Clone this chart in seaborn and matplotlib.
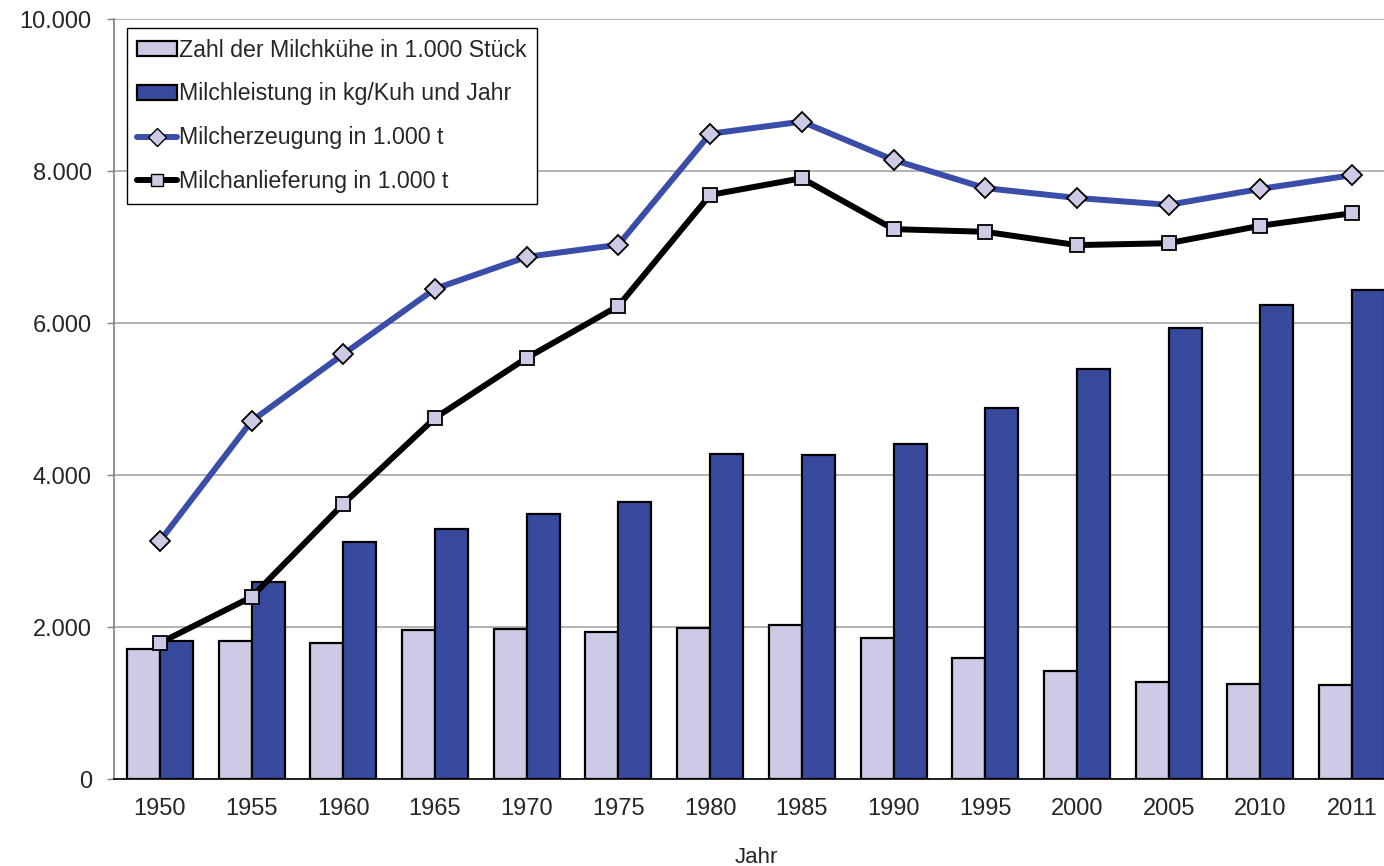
import matplotlib
matplotlib.use("Agg")
import matplotlib.pyplot as plt
import seaborn as sns
import pandas as pd
import numpy as np
from matplotlib.ticker import FixedLocator, FuncFormatter
from matplotlib.lines import Line2D
from matplotlib.patches import Patch

years = ["1950", "1955", "1960", "1965", "1970", "1975", "1980", "1985",
         "1990", "1995", "2000", "2005", "2010", "2011"]
kuehe = [1710, 1815, 1790, 1960, 1975, 1935, 1990, 2025, 1855, 1590, 1420, 1275, 1250, 1240]
leistung = [1815, 2590, 3120, 3290, 3490, 3645, 4275, 4265, 4410, 4880, 5395, 5930, 6235, 6435]
erzeugung = [3130, 4710, 5590, 6450, 6870, 7030, 8490, 8650, 8145, 7775, 7645, 7555, 7765, 7945]
anlieferung = [1790, 2395, 3620, 4750, 5540, 6225, 7685, 7905, 7235, 7200, 7025, 7050, 7280, 7445]

lbl_kuehe = "Zahl der Milchkühe in 1.000 Stück"
lbl_leistung = "Milchleistung in kg/Kuh und Jahr"
lbl_erz = "Milcherzeugung in 1.000 t"
lbl_anl = "Milchanlieferung in 1.000 t"

c_light = "#CCCAE4"
c_dark = "#384A9E"
c_line = "#3A4DA8"

sns.set_style("white")
plt.rcParams["font.family"] = ["Liberation Sans", "DejaVu Sans"]

bars = pd.DataFrame({
    "Jahr": years * 2,
    "Wert": kuehe + leistung,
    "Serie": [lbl_kuehe] * len(years) + [lbl_leistung] * len(years),
})

fig = plt.figure(figsize=(13.84, 8.66), dpi=100)
ax = fig.add_axes([114 / 1384, 1 - 779 / 866, 1284 / 1384, 760 / 866])

sns.barplot(data=bars, x="Jahr", y="Wert", hue="Serie", ax=ax,
            palette=[c_light, c_dark], saturation=1, width=0.72, gap=0,
            edgecolor="black", linewidth=1.6, legend=False, zorder=3)

pos = np.arange(len(years))
sns.lineplot(x=pos, y=erzeugung, ax=ax, color=c_line, linewidth=4.3,
             marker="D", markersize=9.8, markerfacecolor=c_light,
             markeredgecolor="black", markeredgewidth=1.3, zorder=5)
sns.lineplot(x=pos, y=anlieferung, ax=ax, color="black", linewidth=4.3,
             marker="s", markersize=9.5, markerfacecolor=c_light,
             markeredgecolor="black", markeredgewidth=1.3, zorder=5)

ax.set_xlim(-0.5, len(years) - 0.5)
ax.set_ylim(0, 10000)
ax.set_yticks(np.arange(0, 10001, 2000))
ax.yaxis.set_major_formatter(FuncFormatter(lambda v, p: f"{int(v):,}".replace(",", ".")))
ax.grid(axis="y", color="#A6A6A6", linewidth=1.2, zorder=0)
ax.set_axisbelow(True)

ax.xaxis.set_minor_locator(FixedLocator(pos[:-1] + 0.5))
ax.tick_params(axis="x", which="major", length=0, pad=14, labelsize=17)
ax.tick_params(axis="x", which="minor", length=6, width=1, color="black", direction="out")
ax.tick_params(axis="y", length=5, width=1, color="#808080", labelsize=17, pad=11, left=True)

for s in ["top", "right"]:
    ax.spines[s].set_visible(False)
ax.spines["left"].set_color("#808080")
ax.spines["left"].set_linewidth(1.2)
ax.spines["bottom"].set_color("black")
ax.spines["bottom"].set_linewidth(1.2)

ax.set_xlabel("Jahr", fontsize=16, labelpad=19)
ax.set_ylabel("")

handles = [
    Patch(facecolor=c_light, edgecolor="black", linewidth=1.6),
    Patch(facecolor=c_dark, edgecolor="black", linewidth=1.6),
    Line2D([], [], color=c_line, linewidth=4.3, marker="D", markersize=9,
           markerfacecolor=c_light, markeredgecolor="black"),
    Line2D([], [], color="black", linewidth=4.3, marker="s", markersize=9,
           markerfacecolor=c_light, markeredgecolor="black"),
]
leg = ax.legend(handles, [lbl_kuehe, lbl_leistung, lbl_erz, lbl_anl],
                loc="upper left", bbox_to_anchor=(0.0101, 0.988), fontsize=16.7,
                frameon=True, fancybox=False, edgecolor="black", framealpha=1,
                handlelength=1.7, handleheight=0.6, handletextpad=0.1,
                labelspacing=0.9, borderpad=0.45, borderaxespad=0)
leg.get_frame().set_linewidth(1)
leg.set_zorder(10)

plt.savefig("out.png", dpi=100)
plt.close()
